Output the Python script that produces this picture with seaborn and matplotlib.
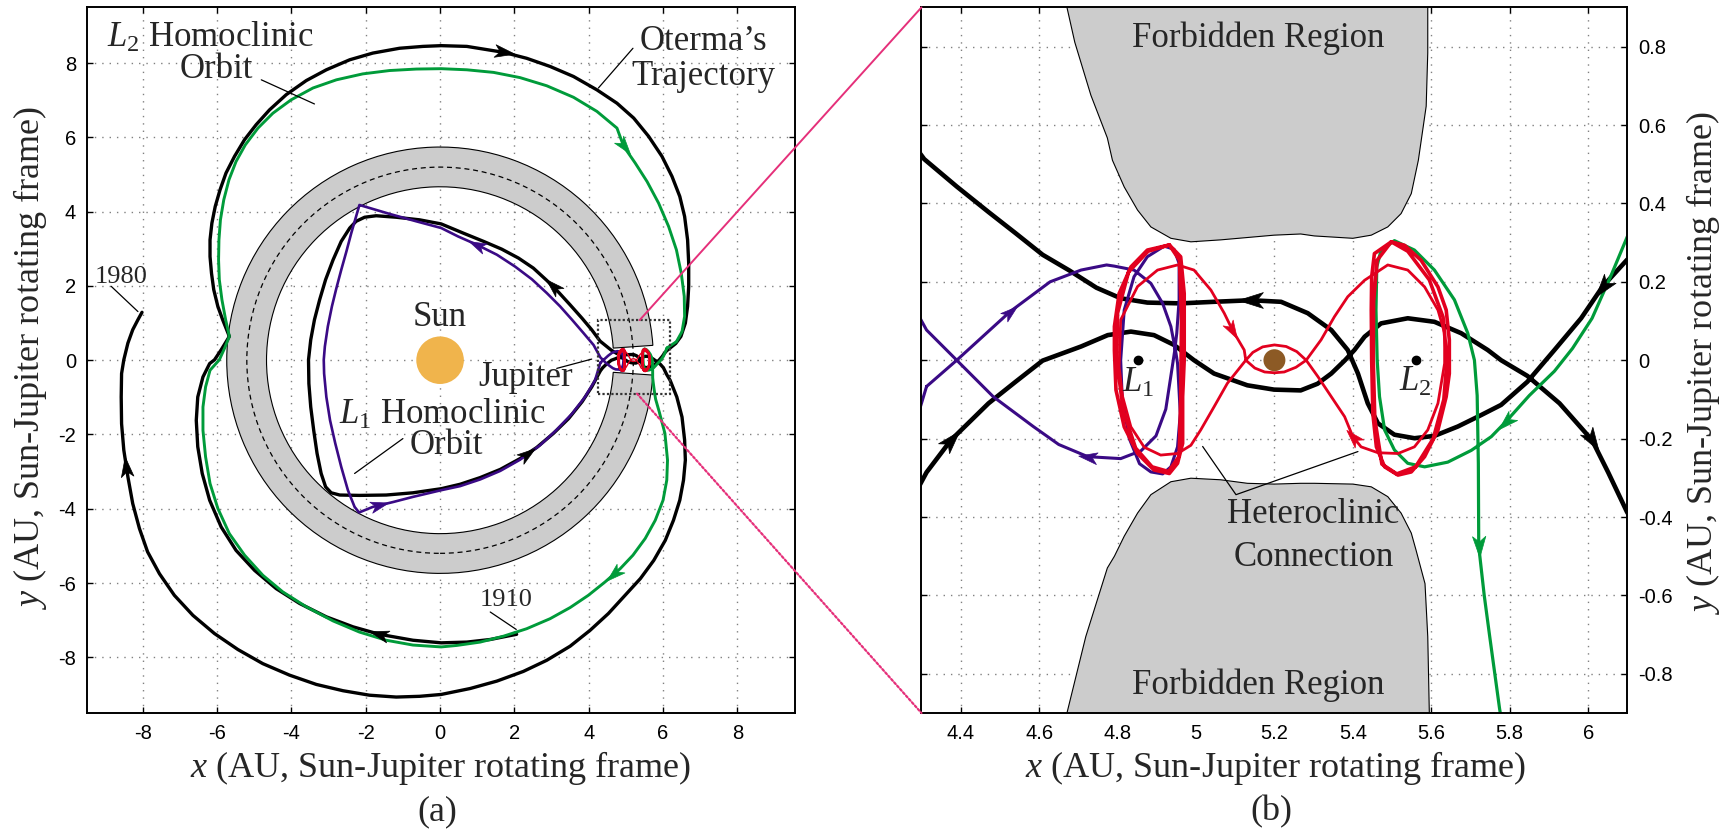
import numpy as np
import matplotlib
matplotlib.use("Agg")
import matplotlib.pyplot as plt
import seaborn as sns
from matplotlib.patches import Wedge, Circle, Rectangle, Polygon, ConnectionPatch
from matplotlib.path import Path

sns.set_theme(style="white")
plt.rcParams['font.family'] = ['Liberation Serif', 'DejaVu Serif']
plt.rcParams['mathtext.fontset'] = 'custom'
plt.rcParams['mathtext.rm'] = 'Liberation Serif'
plt.rcParams['mathtext.it'] = 'Liberation Serif:italic'
plt.rcParams['axes.unicode_minus'] = False

# ---- data (AU, Sun-Jupiter rotating frame) ----
# Oterma: 1910 -> outer loop -> enters Jupiter region from the right
oterma_start = np.array([
    (2.06, -7.38), (1.35, -7.52), (0.72, -7.59), (0.03, -7.61), (-0.73, -7.54),
    (-1.63, -7.38), (-2.34, -7.18), (-3.06, -6.91), (-3.78, -6.55), (-4.41, -6.15),
    (-4.99, -5.66), (-5.49, -5.12), (-5.89, -4.49), (-6.20, -3.77), (-6.40, -3.05),
    (-6.52, -2.33), (-6.56, -1.62), (-6.52, -0.99), (-6.38, -0.45), (-6.20, -0.09),
    (-6.07, 0.01), (-5.89, 0.28), (-5.67, 0.64), (-5.85, 1.09), (-5.98, 1.45),
    (-6.09, 1.90), (-6.15, 2.34), (-6.19, 2.79), (-6.19, 3.24), (-6.14, 3.69),
    (-6.05, 4.14), (-5.92, 4.59), (-5.76, 5.04), (-5.53, 5.49), (-5.26, 5.94),
    (-4.95, 6.34), (-4.59, 6.74), (-4.14, 7.15), (-3.60, 7.53), (-3.06, 7.82),
    (-2.43, 8.09), (-1.81, 8.27), (-1.09, 8.40), (-0.46, 8.45), (0.03, 8.47),
    (0.72, 8.45), (1.71, 8.29), (2.33, 8.13), (2.96, 7.91), (3.59, 7.64),
    (4.22, 7.28), (4.76, 6.92), (5.21, 6.52), (5.61, 6.03), (5.97, 5.49),
    (6.24, 4.95), (6.45, 4.41), (6.58, 3.87), (6.66, 3.24), (6.69, 2.61),
    (6.69, 1.99), (6.66, 1.45), (6.60, 1.00), (6.48, 0.64), (6.34, 0.45)])
oterma_neck_in = np.array([
    (6.099, 0.256), (6.037, 0.188), (5.982, 0.107), (5.914, 0.026), (5.845, -0.055),
    (5.778, -0.114), (5.727, -0.140), (5.668, -0.169), (5.608, -0.193), (5.557, -0.199),
    (5.506, -0.190), (5.464, -0.161), (5.438, -0.110), (5.413, -0.034), (5.387, 0.026),
    (5.345, 0.077), (5.285, 0.120), (5.217, 0.149), (5.140, 0.153), (5.046, 0.149),
    (4.961, 0.145), (4.876, 0.147), (4.808, 0.158), (4.746, 0.185), (4.677, 0.229),
    (4.609, 0.269), (4.540, 0.324), (4.471, 0.378), (4.390, 0.443), (4.307, 0.513)])
oterma_interior = np.array([
    (4.08, 0.82), (3.82, 1.13), (3.50, 1.49), (3.19, 1.83), (2.87, 2.15),
    (2.51, 2.48), (2.11, 2.75), (1.66, 2.99), (1.17, 3.20), (0.63, 3.42),
    (0.03, 3.67), (-0.55, 3.78), (-1.18, 3.85), (-1.72, 3.89), (-2.03, 3.85),
    (-2.26, 3.74), (-2.43, 3.56), (-2.66, 3.20), (-2.88, 2.70), (-3.08, 2.17),
    (-3.24, 1.63), (-3.38, 1.09), (-3.48, 0.55), (-3.54, 0.01), (-3.53, -0.63),
    (-3.48, -1.26), (-3.40, -1.89), (-3.31, -2.51), (-3.20, -3.05), (-3.08, -3.41),
    (-2.93, -3.57), (-2.70, -3.63), (-2.17, -3.64), (-1.45, -3.63), (-0.73, -3.57),
    (0.03, -3.46), (0.54, -3.34), (1.08, -3.16), (1.62, -2.94), (2.15, -2.65),
    (2.60, -2.35), (3.05, -1.97), (3.46, -1.57), (3.82, -1.12), (4.08, -0.72)])
oterma_neck_out = np.array([
    (4.313, -0.286), (4.375, -0.204), (4.471, -0.110), (4.540, -0.055), (4.609, -0.001),
    (4.707, 0.035), (4.775, 0.064), (4.834, 0.073), (4.893, 0.064), (4.944, 0.039),
    (4.995, 0.000), (5.046, -0.034), (5.131, -0.064), (5.199, -0.075), (5.267, -0.077),
    (5.310, -0.060), (5.345, -0.034), (5.380, 0.000), (5.404, 0.026), (5.430, 0.060),
    (5.472, 0.094), (5.540, 0.107), (5.608, 0.098), (5.676, 0.069), (5.744, 0.026),
    (5.778, 0.000), (5.845, -0.040), (5.927, -0.110), (6.010, -0.204), (6.051, -0.286),
    (6.099, -0.387)])
oterma_end = np.array([
    (6.19, -0.54), (6.37, -0.99), (6.51, -1.53), (6.58, -2.15), (6.60, -2.69),
    (6.55, -3.23), (6.45, -3.77), (6.28, -4.31), (6.06, -4.85), (5.75, -5.39),
    (5.39, -5.88), (4.98, -6.33), (4.53, -6.82), (4.04, -7.27), (3.50, -7.70),
    (2.87, -8.08), (2.24, -8.38), (1.53, -8.64), (0.81, -8.84), (0.03, -9.00),
    (-0.55, -9.05), (-1.18, -9.07), (-1.90, -9.02), (-2.61, -8.90), (-3.33, -8.73),
    (-4.05, -8.48), (-4.77, -8.17), (-5.44, -7.79), (-6.07, -7.36), (-6.65, -6.87),
    (-7.15, -6.33), (-7.55, -5.75), (-7.87, -5.16), (-8.09, -4.53), (-8.27, -3.86),
    (-8.40, -3.14), (-8.51, -2.42), (-8.57, -1.71), (-8.58, -0.99), (-8.57, -0.36),
    (-8.51, 0.01), (-8.40, 0.46), (-8.27, 0.82), (-8.13, 1.09), (-8.02, 1.29)])

# L2 homoclinic orbit (green)
l2_neck = np.array([
    (6.106, 0.330), (6.060, 0.220), (6.010, 0.107), (5.960, 0.030), (5.914, -0.028),
    (5.850, -0.090), (5.790, -0.157), (5.753, -0.195), (5.702, -0.230), (5.642, -0.260),
    (5.583, -0.272), (5.540, -0.263), (5.506, -0.229), (5.481, -0.178), (5.468, -0.093),
    (5.462, 0.000), (5.459, 0.128), (5.461, 0.238), (5.472, 0.281), (5.506, 0.305),
    (5.557, 0.281), (5.608, 0.230), (5.659, 0.154), (5.693, 0.069), (5.710, 0.000),
    (5.717, -0.090), (5.720, -0.263), (5.721, -0.475), (5.735, -0.600), (5.749, -0.705),
    (5.774, -0.888), (5.800, -1.050)])
l2_outer = np.array([
    (5.90, -1.40), (6.05, -1.97), (6.12, -2.69), (6.10, -3.23), (6.00, -3.77),
    (5.79, -4.31), (5.52, -4.80), (5.19, -5.25), (4.85, -5.61), (4.44, -5.97),
    (3.99, -6.33), (3.50, -6.66), (2.96, -6.96), (2.33, -7.23), (1.71, -7.43),
    (1.08, -7.59), (0.45, -7.68), (0.03, -7.72), (-0.73, -7.67), (-1.45, -7.54),
    (-2.17, -7.32), (-2.88, -7.02), (-3.60, -6.64), (-4.23, -6.24), (-4.77, -5.79),
    (-5.26, -5.25), (-5.67, -4.67), (-5.98, -3.99), (-6.19, -3.32), (-6.31, -2.60),
    (-6.38, -1.89), (-6.38, -1.26), (-6.31, -0.72), (-6.19, -0.27), (-5.94, 0.01),
    (-5.80, 0.32), (-5.67, 0.64), (-5.77, 1.09), (-5.87, 1.63), (-5.94, 2.17),
    (-5.96, 2.70), (-5.95, 3.24), (-5.91, 3.78), (-5.82, 4.32), (-5.68, 4.86),
    (-5.49, 5.35), (-5.24, 5.80), (-4.90, 6.25), (-4.50, 6.65), (-4.01, 7.01),
    (-3.42, 7.33), (-2.79, 7.55), (-2.08, 7.71), (-1.36, 7.80), (-0.64, 7.84),
    (0.03, 7.85), (0.72, 7.82), (1.44, 7.75), (2.15, 7.61), (2.87, 7.39),
    (3.59, 7.08), (4.22, 6.70), (4.76, 6.25), (4.94, 5.76), (5.25, 5.31),
    (5.57, 4.81), (5.88, 4.23), (6.15, 3.60), (6.36, 2.97), (6.49, 2.34),
    (6.57, 1.72), (6.58, 1.18), (6.51, 0.77), (6.36, 0.50), (6.106, 0.330)])

# L1 homoclinic orbit (purple)
l1_neck = np.array([
    (4.313, -0.067), (4.390, 0.000), (4.526, 0.124), (4.628, 0.200), (4.707, 0.230),
    (4.772, 0.243), (4.792, 0.240), (4.842, 0.230), (4.885, 0.196), (4.915, 0.145),
    (4.936, 0.086), (4.949, 0.018), (4.953, -0.008), (4.960, -0.136), (4.953, -0.221),
    (4.936, -0.272), (4.915, -0.290), (4.885, -0.285), (4.856, -0.264), (4.830, -0.200),
    (4.812, -0.100), (4.808, 0.000), (4.817, 0.128), (4.842, 0.213), (4.876, 0.264),
    (4.919, 0.291), (4.944, 0.283), (4.957, 0.247), (4.957, 0.154), (4.951, 0.069),
    (4.946, 0.026), (4.936, -0.040), (4.923, -0.125), (4.898, -0.193), (4.860, -0.231),
    (4.808, -0.251), (4.724, -0.246), (4.650, -0.215), (4.585, -0.169), (4.483, -0.093),
    (4.390, 0.000), (4.313, 0.077)])
l1_interior = np.array([
    (4.13, 0.41), (3.86, 0.73), (3.55, 1.09), (3.23, 1.45), (2.87, 1.81),
    (2.47, 2.18), (2.02, 2.52), (1.53, 2.84), (0.99, 3.11), (0.49, 3.33),
    (0.03, 3.56), (-0.64, 3.74), (-1.36, 3.94), (-1.90, 4.10), (-2.17, 4.18),
    (-2.26, 3.87), (-2.39, 3.42), (-2.52, 2.93), (-2.66, 2.43), (-2.79, 1.94),
    (-2.91, 1.45), (-3.02, 0.91), (-3.10, 0.37), (-3.13, 0.01), (-3.12, -0.36),
    (-3.06, -0.99), (-2.96, -1.62), (-2.82, -2.24), (-2.66, -2.87), (-2.48, -3.50),
    (-2.30, -3.95), (-2.18, -4.10), (-1.81, -3.95), (-1.27, -3.82), (-0.73, -3.68),
    (0.03, -3.50), (0.54, -3.39), (1.08, -3.21), (1.62, -2.98), (2.15, -2.68),
    (2.69, -2.29), (3.14, -1.87), (3.55, -1.44), (3.90, -0.99), (4.17, -0.54),
    (4.313, -0.067)])

# heteroclinic connection (red)
hetero_thin = np.array([
    (5.127, 0.000), (5.150, -0.020), (5.175, -0.030), (5.200, -0.032), (5.225, -0.030),
    (5.255, -0.018), (5.281, 0.000), (5.319, 0.052), (5.353, 0.111), (5.387, 0.162),
    (5.430, 0.204), (5.489, 0.243), (5.540, 0.230), (5.583, 0.187), (5.617, 0.128),
    (5.634, 0.069), (5.634, -0.008), (5.617, -0.110), (5.591, -0.178), (5.557, -0.221),
    (5.515, -0.238), (5.464, -0.236), (5.421, -0.221), (5.400, -0.195), (5.379, -0.144),
    (5.345, -0.093), (5.311, -0.042), (5.281, 0.000), (5.257, 0.022), (5.230, 0.035),
    (5.200, 0.039), (5.170, 0.034), (5.145, 0.020), (5.127, 0.000), (5.080, -0.059),
    (5.046, -0.119), (5.012, -0.178), (4.987, -0.217), (4.953, -0.238), (4.910, -0.242),
    (4.868, -0.222), (4.834, -0.170), (4.813, -0.093), (4.804, -0.017), (4.808, 0.103),
    (4.851, 0.188), (4.902, 0.230), (4.953, 0.243), (4.995, 0.230), (5.038, 0.179),
    (5.072, 0.120), (5.093, 0.077), (5.123, 0.026), (5.127, 0.000)])
lyap_l1 = np.array([
    (4.932, 0.294), (4.961, 0.264), (4.970, 0.170), (4.970, 0.000), (4.966, -0.093),
    (4.966, -0.212), (4.953, -0.263), (4.932, -0.289), (4.893, -0.280), (4.851, -0.238),
    (4.817, -0.170), (4.796, -0.076), (4.792, 0.025), (4.792, 0.086), (4.804, 0.170),
    (4.834, 0.238), (4.876, 0.281), (4.932, 0.294),
    (4.958, 0.255), (4.963, 0.100), (4.961, -0.100), (4.957, -0.245), (4.930, -0.284),
    (4.888, -0.272), (4.846, -0.224), (4.815, -0.130), (4.798, 0.000), (4.800, 0.120),
    (4.828, 0.225), (4.878, 0.278), (4.932, 0.294)])
lyap_l2 = np.array([
    (5.498, 0.302), (5.532, 0.293), (5.574, 0.255), (5.617, 0.187), (5.638, 0.128),
    (5.646, 0.052), (5.646, -0.034), (5.638, -0.093), (5.617, -0.178), (5.583, -0.246),
    (5.549, -0.285), (5.515, -0.293), (5.481, -0.272), (5.460, -0.221), (5.451, -0.136),
    (5.448, 0.000), (5.447, 0.128), (5.448, 0.213), (5.455, 0.272), (5.498, 0.302),
    (5.540, 0.278), (5.595, 0.205), (5.630, 0.110), (5.640, 0.000), (5.632, -0.100),
    (5.605, -0.200), (5.560, -0.272), (5.512, -0.290), (5.474, -0.265), (5.456, -0.150),
    (5.452, 0.000), (5.453, 0.150), (5.462, 0.255), (5.498, 0.302)])

# forbidden regions near Jupiter
forbidden_top = np.array([
    (4.66, 1.00), (4.671, 0.900), (4.691, 0.811), (4.732, 0.676), (4.774, 0.567),
    (4.787, 0.510), (4.817, 0.442), (4.851, 0.383), (4.885, 0.340), (4.936, 0.311),
    (4.987, 0.302), (5.063, 0.307), (5.131, 0.313), (5.199, 0.319), (5.267, 0.322),
    (5.302, 0.317), (5.400, 0.311), (5.447, 0.319), (5.489, 0.340), (5.523, 0.374),
    (5.549, 0.425), (5.567, 0.510), (5.587, 0.648), (5.591, 0.784), (5.591, 1.00)])
forbidden_bottom = np.array([
    (4.66, -1.00), (4.671, -0.900), (4.719, -0.705), (4.774, -0.530), (4.792, -0.500),
    (4.817, -0.449), (4.851, -0.390), (4.885, -0.343), (4.936, -0.310), (4.987, -0.301),
    (5.063, -0.305), (5.131, -0.314), (5.199, -0.316), (5.267, -0.314), (5.302, -0.314),
    (5.400, -0.316), (5.447, -0.323), (5.489, -0.348), (5.523, -0.390), (5.549, -0.441),
    (5.561, -0.484), (5.584, -0.570), (5.591, -0.705), (5.595, -0.900), (5.596, -1.00)])
zone_outer_r, zone_inner_r, jupiter_orbit_r = 5.74, 4.67, 5.2
sun_r, jupiter_r = 0.64, 0.028
l_points_x = [4.853, 5.560]

# arrows: (x, y, direction in degrees)
arrows_black_a = [(1.71, 8.29, -9), (-1.63, -7.38, 164), (-8.45, -2.87, 97),
                  (3.05, 1.99, 136), (2.33, -2.53, 36)]
arrows_green_a = [(4.94, 5.76, -52), (4.67, -5.75, -138)]
arrows_purple_a = [(0.99, 3.11, 155), (-1.63, -3.90, 15)]
arrows_black_b = [(5.14, 0.153, 180), (6.037, 0.188, 232), (4.375, -0.204, 48), (6.01, -0.204, -58)]
arrows_purple_b = [(4.526, 0.124, 40), (4.724, -0.246, 172)]
arrows_red_b = [(5.093, 0.077, -60), (5.40, -0.195, 133)]
arrows_green_b = [(5.79, -0.157, 224), (5.721, -0.475, -88)]

left_ticks = [-8, -6, -4, -2, 0, 2, 4, 6, 8]
left_tick_labels = ['-8', '-6', '-4', '-2', '0', '2', '4', '6', '8']
right_xticks = [4.4, 4.6, 4.8, 5.0, 5.2, 5.4, 5.6, 5.8, 6.0]
right_xtick_labels = ['4.4', '4.6', '4.8', '5', '5.2', '5.4', '5.6', '5.8', '6']
right_yticks = [-0.8, -0.6, -0.4, -0.2, 0.0, 0.2, 0.4, 0.6, 0.8]
right_ytick_labels = ['-0.8', '-0.6', '-0.4', '-0.2', '0', '0.2', '0.4', '0.6', '0.8']

BLACK, GREEN, PURPLE, RED = '#000000', '#009B3A', '#3A0A85', '#E2001F'
PINK = '#E5307A'
SANS = 'Liberation Sans'

oterma = np.vstack([oterma_start, oterma_neck_in, oterma_interior, oterma_neck_out, oterma_end])
l2_orbit = np.vstack([l2_neck, l2_outer])
l1_orbit = np.vstack([l1_neck, l1_interior])

ARROW_SHAPE = np.array([[1.0, 0.0], [-0.9, 0.6], [-0.4, 0.0], [-0.9, -0.6], [1.0, 0.0]])
ARROW_CODES = [Path.MOVETO, Path.LINETO, Path.LINETO, Path.LINETO, Path.CLOSEPOLY]


def draw_path(ax, pts, color, lw, z=2):
    sns.lineplot(x=pts[:, 0], y=pts[:, 1], sort=False, estimator=None, ax=ax,
                 color=color, linewidth=lw, zorder=z, legend=False,
                 solid_joinstyle='round', solid_capstyle='round')


def draw_arrows(ax, arrows, color, size):
    for x, y, ang in arrows:
        t = np.deg2rad(ang)
        rot = np.array([[np.cos(t), -np.sin(t)], [np.sin(t), np.cos(t)]])
        marker = Path(ARROW_SHAPE @ rot.T, ARROW_CODES)
        ax.plot([x], [y], ls='none', marker=marker, ms=size, mfc=color, mec=color,
                mew=0.5, zorder=6)


def style_axes(ax):
    for s in ax.spines.values():
        s.set_color('black')
        s.set_linewidth(1.4)
    ax.grid(True, color='#808080', linestyle=(0, (1, 4.3)), linewidth=1.0)
    ax.tick_params(direction='in', length=4, width=1, top=True, right=True,
                   bottom=True, left=True, labelsize=14.5, labelfontfamily=SANS,
                   colors='black', pad=8)
    ax.set_xlabel('')
    ax.set_ylabel('')


fig = plt.figure(figsize=(17.23, 8.32), dpi=100)
ax1 = fig.add_axes([0.0505, 0.1430, 0.4109, 0.8481])
ax2 = fig.add_axes([0.5348, 0.1430, 0.4097, 0.8481])

# ---------------- panel (a) ----------------
ax1.add_patch(Wedge((0, 0), zone_outer_r, 4, 356, width=zone_outer_r - zone_inner_r,
                    fc='#CCCCCC', ec='black', lw=0.8, zorder=1))
ax1.add_patch(Circle((0, 0), jupiter_orbit_r, fill=False, ec='black', lw=0.9,
                     ls=(0, (4, 3)), zorder=1.2))
ax1.add_patch(Circle((0, 0), sun_r, fc='#F0B44C', ec='none', zorder=1.5))

draw_path(ax1, oterma, BLACK, 2.4)
draw_path(ax1, l2_orbit, GREEN, 2.1)
draw_path(ax1, l1_orbit, PURPLE, 1.9)
draw_path(ax1, hetero_thin, RED, 1.0)
draw_path(ax1, lyap_l1, RED, 1.7)
draw_path(ax1, lyap_l2, RED, 1.7)
draw_arrows(ax1, arrows_black_a, BLACK, 15)
draw_arrows(ax1, arrows_green_a, GREEN, 15)
draw_arrows(ax1, arrows_purple_a, PURPLE, 14)

ax1.add_patch(Rectangle((4.24, -0.90), 1.95, 1.97, fill=False, ec='#333333',
                        lw=1.6, ls=(0, (1, 1)), zorder=3))

tkw = dict(fontsize=25, ha='center', va='center', zorder=7)
ax1.text(-6.18, 8.67, r'$L_2$ Homoclinic', **tkw)
ax1.text(-6.03, 7.82, 'Orbit', **tkw)
ax1.text(7.09, 8.58, 'Oterma\u2019s', **tkw)
ax1.text(7.07, 7.64, 'Trajectory', **tkw)
ax1.text(0.0, 1.16, 'Sun', **tkw)
ax1.text(2.31, -0.47, 'Jupiter', **tkw)
ax1.text(0.07, -1.46, r'$L_1$ Homoclinic', **tkw)
ax1.text(0.18, -2.29, 'Orbit', **tkw)
ax1.text(-8.57, 2.25, '1980', fontsize=19, ha='center', va='center')
ax1.text(1.77, -6.46, '1910', fontsize=19, ha='center', va='center')
for xs, ys in [([-4.81, -3.38], [7.55, 6.90]), ([5.19, 4.26], [8.40, 7.33]),
               ([3.14, 4.08], [-0.22, 0.03]), ([-1.0, -2.3], [-2.11, -3.05]),
               ([-8.85, -8.13], [1.99, 1.31]), ([1.35, 2.05], [-6.78, -7.25])]:
    ax1.plot(xs, ys, color='black', lw=0.9, zorder=5)

ax1.set_xlim(-9.5, 9.55)
ax1.set_ylim(-9.5, 9.5)
ax1.set_xticks(left_ticks)
ax1.set_xticklabels(left_tick_labels)
ax1.set_yticks(left_ticks)
ax1.set_yticklabels(left_tick_labels)
style_axes(ax1)

# ---------------- panel (b) ----------------
for poly in (forbidden_top, forbidden_bottom):
    ax2.add_patch(Polygon(poly, closed=True, fc='#CCCCCC', ec='black', lw=0.8, zorder=1))

draw_path(ax2, oterma, BLACK, 3.3)
draw_path(ax2, l2_orbit, GREEN, 2.3)
draw_path(ax2, l1_orbit, PURPLE, 2.2)
draw_path(ax2, hetero_thin, RED, 2.0)
draw_path(ax2, lyap_l1, RED, 2.6)
draw_path(ax2, lyap_l2, RED, 2.6)
draw_arrows(ax2, arrows_black_b, BLACK, 19)
draw_arrows(ax2, arrows_purple_b, PURPLE, 14)
draw_arrows(ax2, arrows_red_b, RED, 15)
draw_arrows(ax2, arrows_green_b, GREEN, 16)

ax2.add_patch(Circle((5.2, 0.0), jupiter_r, fc='#8C5A25', ec='none', zorder=4))
ax2.plot(l_points_x, [0.0, 0.0], ls='none', marker='o', ms=6, color='black', zorder=5)
ax2.text(4.853, -0.059, r'$L_1$', **tkw)
ax2.text(5.560, -0.057, r'$L_2$', **tkw)
ax2.text(5.158, 0.822, 'Forbidden Region', **tkw)
ax2.text(5.158, -0.830, 'Forbidden Region', **tkw)
ax2.text(5.298, -0.394, 'Heteroclinic', **tkw)
ax2.text(5.300, -0.502, 'Connection', **tkw)
ax2.plot([5.017, 5.102, 5.413], [-0.22, -0.343, -0.233], color='black', lw=0.9, zorder=5)

ax2.set_xlim(4.3, 6.1)
ax2.set_ylim(-0.9, 0.9)
ax2.set_xticks(right_xticks)
ax2.set_xticklabels(right_xtick_labels)
ax2.set_yticks(right_yticks)
ax2.set_yticklabels(right_ytick_labels)
style_axes(ax2)
ax2.tick_params(labelleft=False, labelright=True)

# zoom connectors
con1 = ConnectionPatch(xyA=(5.37, 1.08), coordsA=ax1.transData, xyB=(0, 1),
                       coordsB=ax2.transAxes, color=PINK, lw=1.4)
con2 = ConnectionPatch(xyA=(5.30, -0.90), coordsA=ax1.transData, xyB=(0, 0),
                       coordsB=ax2.transAxes, color=PINK, lw=1.6, ls=(0, (1, 1)))
fig.add_artist(con1)
fig.add_artist(con2)

# axis labels and captions
lab = dict(fontsize=26, ha='center', va='center')
fig.text(0.2560, 0.0769, r'$x$ (AU, Sun-Jupiter rotating frame)', **lab)
fig.text(0.7404, 0.0769, r'$x$ (AU, Sun-Jupiter rotating frame)', **lab)
fig.text(0.0177, 0.5697, r'$y$ (AU, Sun-Jupiter rotating frame)', rotation=90, **lab)
fig.text(0.9882, 0.5637, r'$y$ (AU, Sun-Jupiter rotating frame)', rotation=90, **lab)
fig.text(0.2540, 0.0244, '(a)', **lab)
fig.text(0.7376, 0.0244, '(b)', **lab)

fig.savefig('out.png', dpi=100)
